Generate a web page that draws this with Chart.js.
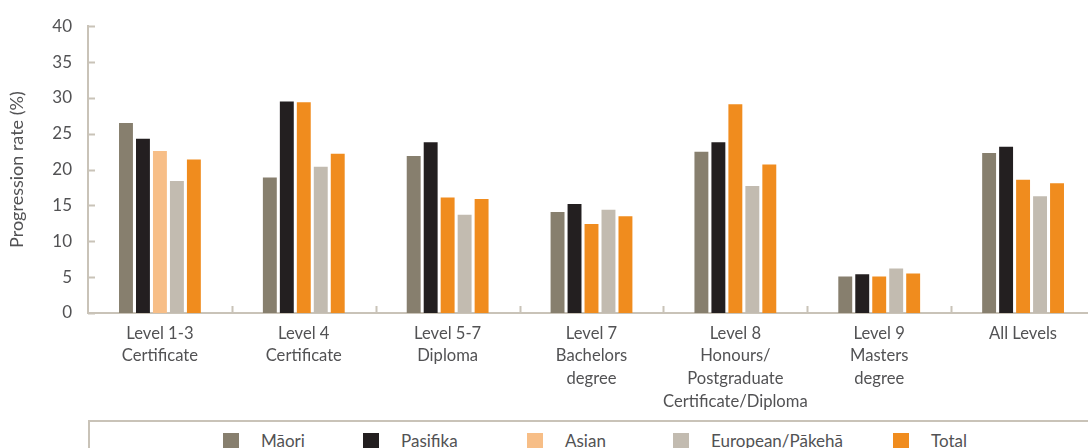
<!DOCTYPE html>
<html>
<head>
<meta charset="utf-8">
<script src="https://cdn.jsdelivr.net/npm/chart.js@4.4.1/dist/chart.umd.min.js"></script>
<style>
  html, body { margin: 0; padding: 0; background: #fff; overflow: hidden; }
  #wrap { position: relative; width: 1095px; height: 448px; }
  #chartBox { position: absolute; left: 0; top: 0; width: 1095px; height: 420px; }
  #legend {
    position: absolute; left: 88px; top: 420px; width: 1010px; height: 30px;
    border-top: 2px solid #c9c3b8; border-left: 2px solid #c9c3b8;
    font-family: Lato, "Open Sans", sans-serif; font-size: 17px; color: #525254;
  }
  .item { position: absolute; top: 8px; display: flex; align-items: center; }
  .sw { width: 16px; height: 16px; margin-right: 22px; }
</style>
</head>
<body>
<div id="wrap">
  <div id="chartBox"><canvas id="c"></canvas></div>
  <div id="legend"></div>
</div>
<script>
const levels = [
  ["Level 1-3", "Certificate"],
  ["Level 4", "Certificate"],
  ["Level 5-7", "Diploma"],
  ["Level 7", "Bachelors", "degree"],
  ["Level 8", "Honours/", "Postgraduate", "Certificate/Diploma"],
  ["Level 9", "Masters", "degree"],
  ["All Levels"]
];
const seriesNames = ["Māori", "Pasifika", "Asian", "European/Pākehā", "Total"];
const maori    = [26.5, 18.9, 21.9, 14.1, 22.5, 5.1, 22.3];
const pasifika = [24.3, 29.5, 23.8, 15.2, 23.8, 5.4, 23.2];
const asian    = [22.6, 29.4, 16.1, 12.4, 29.1, 5.1, 18.6];
const european = [18.4, 20.4, 13.7, 14.4, 17.7, 6.2, 16.3];
const total    = [21.4, 22.2, 15.9, 13.5, 20.7, 5.5, 18.1];
const yTicks = [0, 5, 10, 15, 20, 25, 30, 35, 40];

const colours = ["#877f6e", "#231f20", "#f7be87", "#c2bbb0", "#f08c1e"];
const axisColour = "#c9c3b8";
const textColour = "#525254";
const font = 'Lato, "Open Sans", sans-serif';

// Asian bars are drawn in the total orange apart from the first group
const asianColours = asian.map((v, i) => i === 0 ? colours[2] : colours[4]);

const values = [maori, pasifika, asian, european, total];
const datasets = values.map((d, i) => ({
  label: seriesNames[i],
  data: d,
  backgroundColor: i === 2 ? asianColours : colours[i],
  categoryPercentage: 0.59,
  barPercentage: 0.82
}));

// short inner tick marks on both axes
const innerTicks = {
  id: "innerTicks",
  afterDatasetsDraw(chart) {
    const { ctx, scales: { x, y } } = chart;
    ctx.save();
    ctx.strokeStyle = axisColour;
    ctx.lineWidth = 2;
    ctx.beginPath();
    for (let i = 1; i < levels.length; i++) {
      const px = Math.round(x.getPixelForValue(i - 0.5)) + 0.5;
      ctx.moveTo(px, y.bottom);
      ctx.lineTo(px, y.bottom - 7);
    }
    yTicks.forEach(v => {
      const py = Math.round(y.getPixelForValue(v)) + 0.5;
      ctx.moveTo(x.left, py);
      ctx.lineTo(x.left + 7, py);
    });
    ctx.stroke();
    ctx.restore();
  }
};

new Chart(document.getElementById("c"), {
  type: "bar",
  data: { labels: levels, datasets },
  plugins: [innerTicks],
  options: {
    responsive: true,
    maintainAspectRatio: false,
    animation: false,
    layout: { padding: { top: 22, left: 0, right: 0, bottom: 0 } },
    plugins: { legend: { display: false }, tooltip: { enabled: false } },
    scales: {
      x: {
        grid: { display: false, drawTicks: false },
        border: { display: true, color: axisColour, width: 2 },
        ticks: {
          color: textColour, padding: 9, maxRotation: 0, autoSkip: false,
          font: { family: font, size: 16.6, lineHeight: 1.37 }
        },
        afterFit(scale) { scale.height = 107; }
      },
      y: {
        min: 0, max: 40,
        afterBuildTicks(scale) { scale.ticks = yTicks.map(v => ({ value: v })); },
        grid: { display: false, drawTicks: false },
        border: { display: true, color: axisColour, width: 2 },
        ticks: {
          color: textColour, padding: 16,
          font: { family: font, size: 17 }
        },
        title: {
          display: true, text: "Progression rate (%)", color: textColour,
          font: { family: font, size: 18 }, padding: { top: 6, bottom: 0 }
        },
        afterFit(scale) { scale.width = 88; }
      }
    }
  }
});

// legend row under the chart
const legendLeft = [133, 273, 437, 583, 803];
const legend = document.getElementById("legend");
seriesNames.forEach((name, i) => {
  const item = document.createElement("div");
  item.className = "item";
  item.style.left = legendLeft[i] + "px";
  const sw = document.createElement("span");
  sw.className = "sw";
  sw.style.background = colours[i];
  const label = document.createElement("span");
  label.textContent = name;
  item.append(sw, label);
  legend.append(item);
});
</script>
</body>
</html>
